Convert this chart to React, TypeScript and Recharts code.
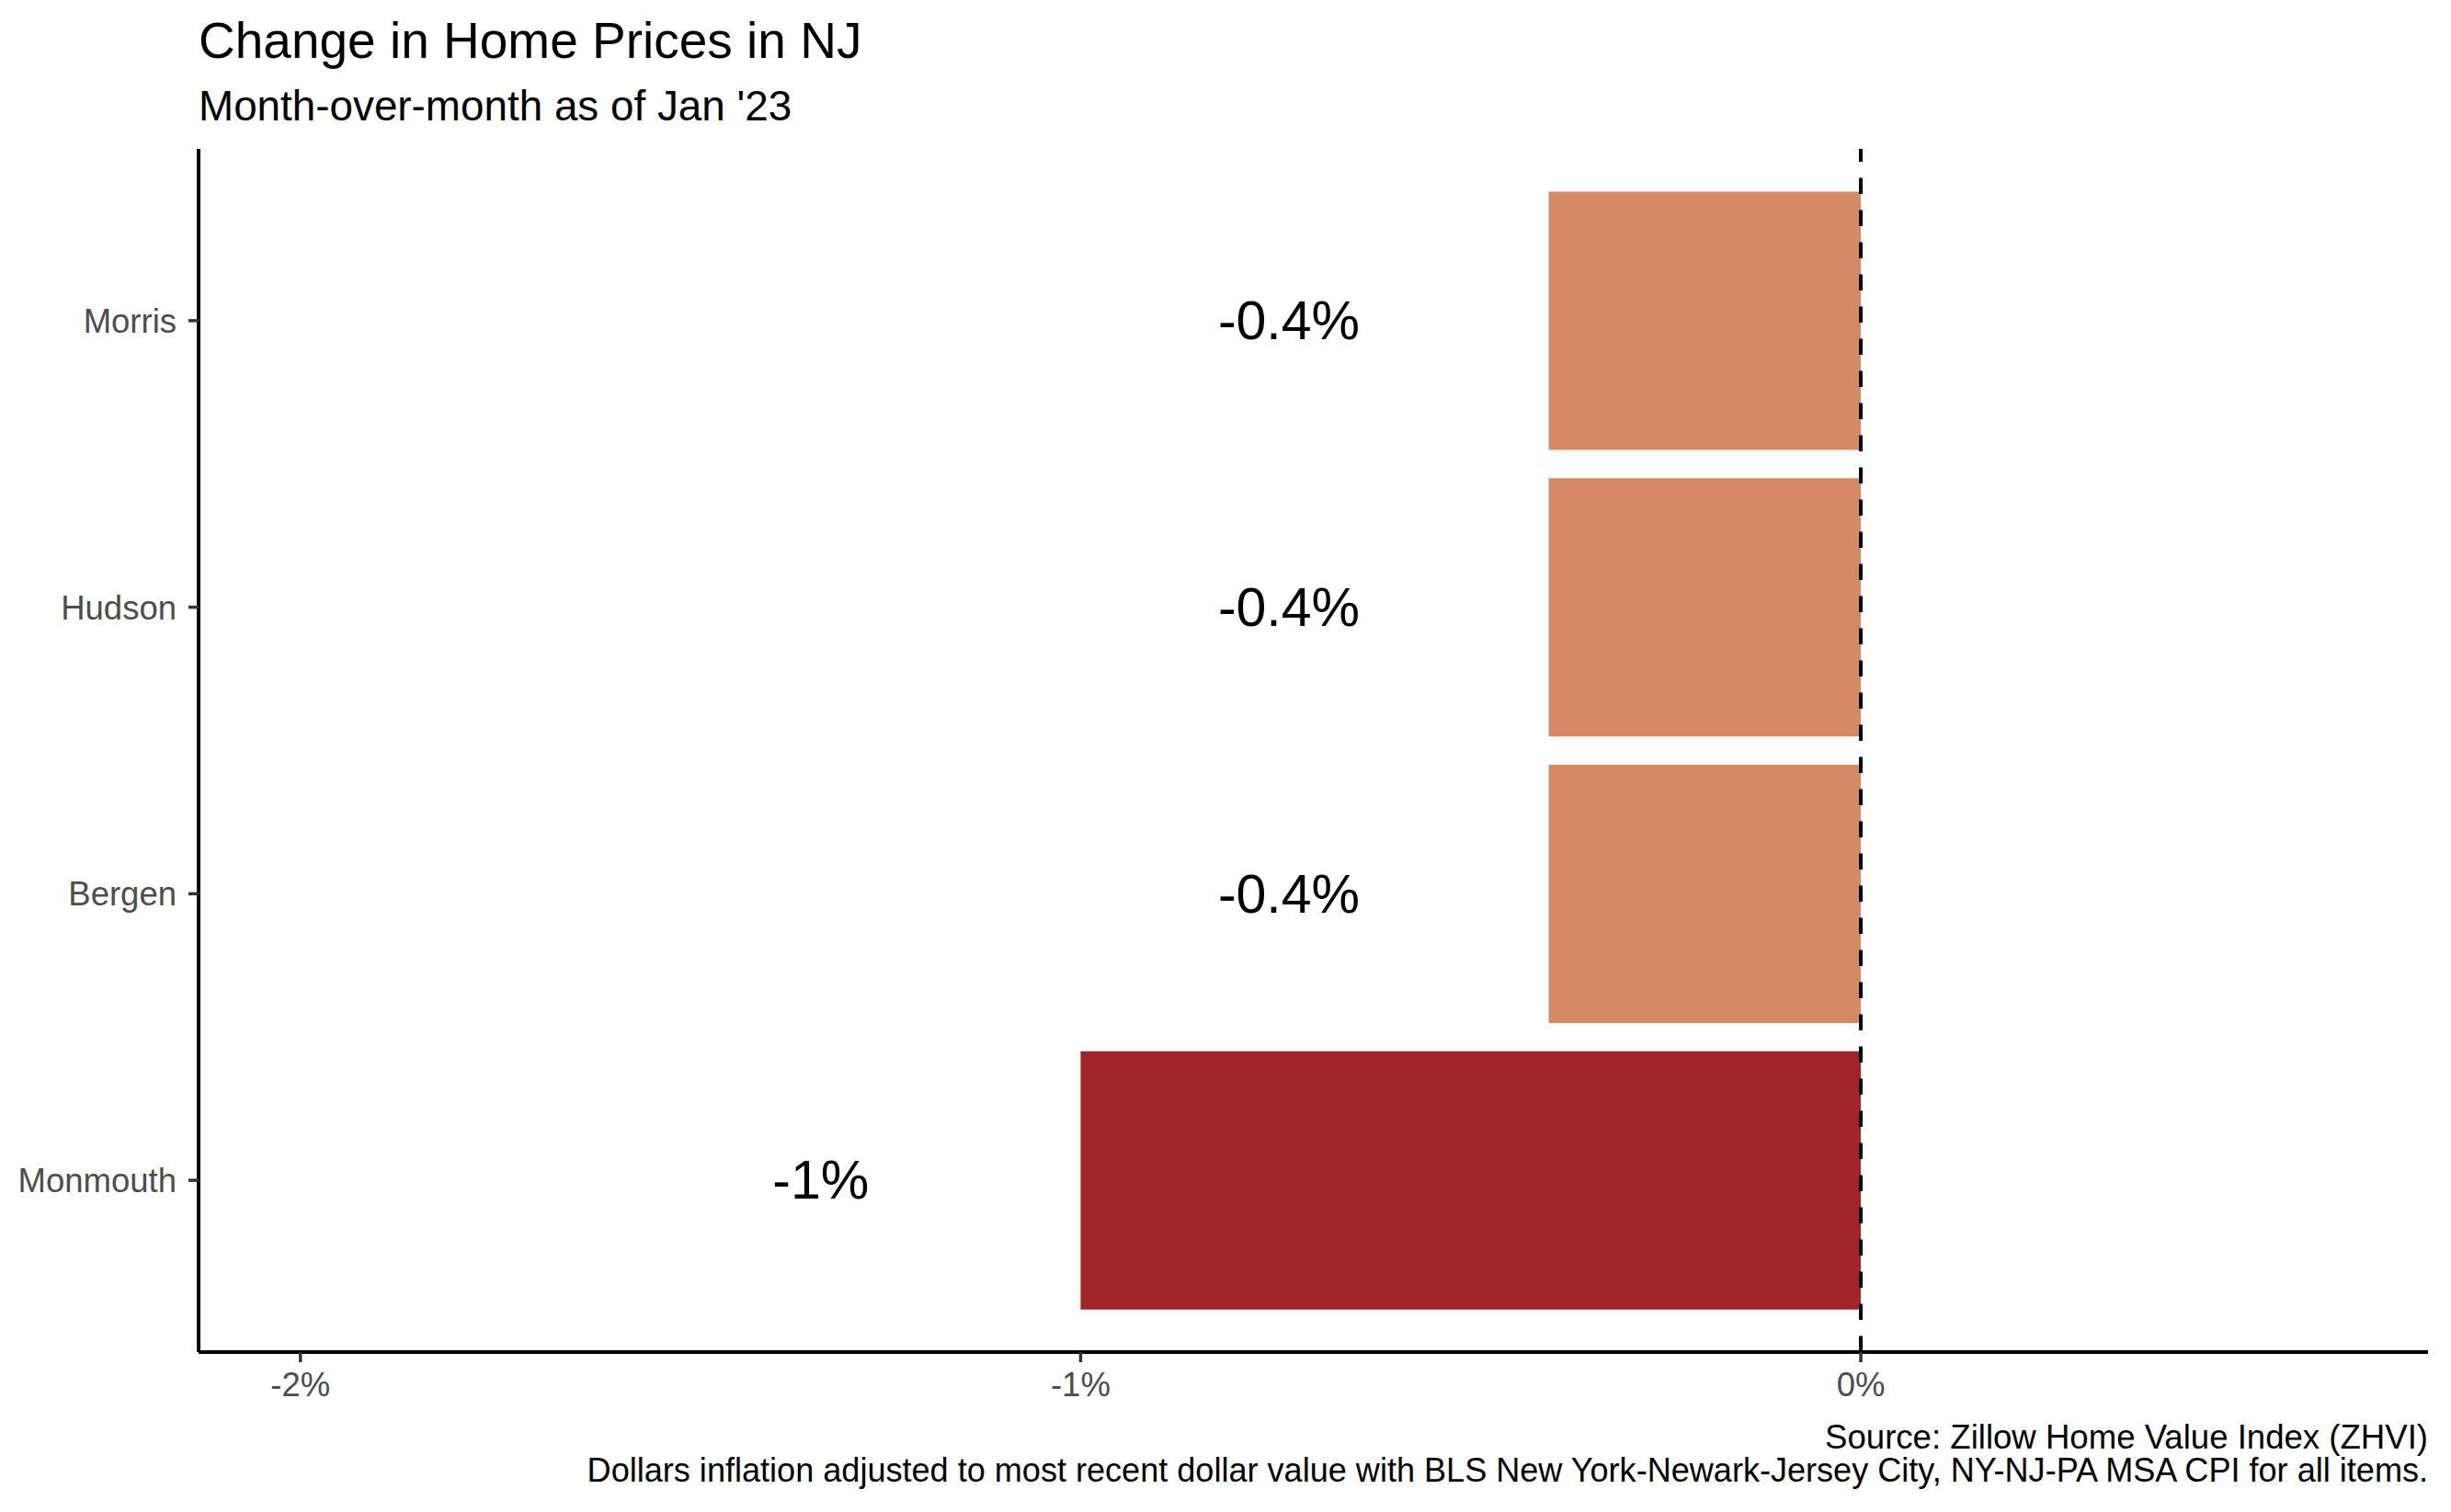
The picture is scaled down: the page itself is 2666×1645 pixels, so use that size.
import React from 'react';
import { BarChart, Bar, XAxis, YAxis, ReferenceLine, LabelList, Cell } from 'recharts';

const counties = ['Morris', 'Hudson', 'Bergen', 'Monmouth'];
const changes = [-0.4, -0.4, -0.4, -1.0];
const barLabels = ['-0.4%', '-0.4%', '-0.4%', '-1%'];
const barColors = ['#D68965', '#D68965', '#D68965', '#A2242B'];
const xTicks = [-2, -1, 0];

const TITLE = 'Change in Home Prices in NJ';
const SUBTITLE = "Month-over-month as of Jan '23";
const CAPTION1 = 'Source: Zillow Home Value Index (ZHVI)';
const CAPTION2 =
  'Dollars inflation adjusted to most recent dollar value with BLS New York-Newark-Jersey City, NY-NJ-PA MSA CPI for all items.';

const data = counties.map((c, i) => ({ county: c, change: changes[i], label: barLabels[i] }));

const FONT = '"Liberation Sans", Arial, Helvetica, sans-serif';
const W = 2666;
const H = 1645;
const LABEL_SHIFT = 0.333; // label placed this many percentage points left of bar end

const renderLabel = (props: any) => {
  const { x, y, width, height, value, index } = props;
  const w = Number(width);
  const left = Math.min(Number(x), Number(x) + w);
  const v = Math.abs(changes[index]);
  const pxPerUnit = v > 0 ? Math.abs(w) / v : 0;
  const cx = left - LABEL_SHIFT * pxPerUnit;
  const cy = Number(y) + Number(height) / 2;
  return (
    <text
      x={cx}
      y={cy}
      textAnchor="middle"
      dominantBaseline="central"
      fontSize={59}
      fontFamily={FONT}
      fill="#000000"
    >
      {value}
    </text>
  );
};

export default function App() {
  return (
    <div
      style={{
        position: 'absolute',
        left: 0,
        top: 0,
        width: W,
        height: H,
        background: '#ffffff',
        fontFamily: FONT,
      }}
    >
      <BarChart
        width={W}
        height={H}
        data={data}
        layout="vertical"
        margin={{ top: 162, right: 25, bottom: 0, left: 0 }}
        barCategoryGap="5%"
      >
        <XAxis
          type="number"
          dataKey="change"
          domain={[-2.1305, 0.727]}
          allowDataOverflow
          ticks={xTicks}
          tickFormatter={(v: number) => `${v}%`}
          height={174}
          axisLine={{ stroke: '#000000', strokeWidth: 4 }}
          tickLine={{ stroke: '#333333', strokeWidth: 3.5 }}
          tickSize={11}
          tickMargin={11}
          tick={{ fill: '#4d4d4d', fontSize: 36.5, fontFamily: FONT }}
        />
        <YAxis
          type="category"
          dataKey="county"
          width={216}
          padding={{ top: 31, bottom: 31 }}
          axisLine={{ stroke: '#000000', strokeWidth: 4 }}
          tickLine={{ stroke: '#333333', strokeWidth: 3.5 }}
          tickSize={11}
          tickMargin={13}
          tick={{ fill: '#4d4d4d', fontSize: 36.5, fontFamily: FONT }}
        />
        <Bar dataKey="change" isAnimationActive={false}>
          {data.map((d, i) => (
            <Cell key={d.county} fill={barColors[i]} />
          ))}
          <LabelList dataKey="label" content={renderLabel} />
        </Bar>
        <ReferenceLine
          x={0}
          stroke="#000000"
          strokeWidth={4}
          strokeDasharray="17.5 17.5"
          ifOverflow="extendDomain"
        />
      </BarChart>
      <svg
        width={W}
        height={H}
        style={{ position: 'absolute', left: 0, top: 0, pointerEvents: 'none' }}
      >
        <text x={216} y={63} fontSize={55} fontFamily={FONT} fill="#000000">
          {TITLE}
        </text>
        <text x={216} y={131} fontSize={45.8} fontFamily={FONT} fill="#000000">
          {SUBTITLE}
        </text>
        <text x={2641} y={1576} fontSize={36.6} fontFamily={FONT} fill="#000000" textAnchor="end">
          {CAPTION1}
        </text>
        <text x={2641} y={1612} fontSize={36.1} fontFamily={FONT} fill="#000000" textAnchor="end">
          {CAPTION2}
        </text>
      </svg>
    </div>
  );
}
